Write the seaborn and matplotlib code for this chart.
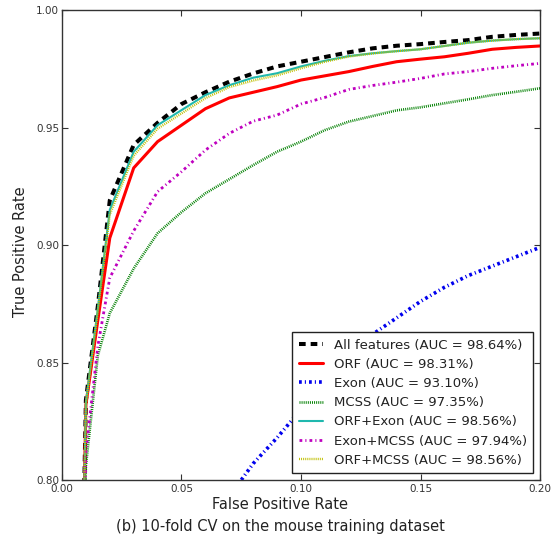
import matplotlib
matplotlib.use("Agg")
import matplotlib.pyplot as plt
import seaborn as sns
import pandas as pd

# ---- data ----
fpr = [0.0, 0.01, 0.015, 0.02, 0.03, 0.04, 0.05, 0.06, 0.07, 0.08, 0.09, 0.10,
       0.11, 0.12, 0.13, 0.14, 0.15, 0.16, 0.17, 0.18, 0.19, 0.20]

all_features = [0.30, 0.834, 0.874, 0.919, 0.9426, 0.952, 0.960, 0.965, 0.9695, 0.973, 0.976,
                0.978, 0.980, 0.982, 0.9837, 0.9848, 0.9855, 0.9864, 0.9872, 0.9886, 0.9894, 0.990]
orf = [0.30, 0.832, 0.868, 0.903, 0.9328, 0.944, 0.951, 0.958, 0.9626, 0.965, 0.9674,
       0.9702, 0.972, 0.9738, 0.976, 0.978, 0.9791, 0.9801, 0.9816, 0.9833, 0.9841, 0.9847]
exon = [0.0, 0.45, 0.52, 0.57, 0.64, 0.69, 0.73, 0.765, 0.793, 0.807, 0.818,
        0.830, 0.842, 0.853, 0.862, 0.869, 0.876, 0.882, 0.887, 0.891, 0.895, 0.899]
mcss = [0.30, 0.806, 0.853, 0.871, 0.890, 0.905, 0.914, 0.922, 0.928, 0.934, 0.9397,
        0.944, 0.9489, 0.9525, 0.9549, 0.9573, 0.9586, 0.9603, 0.962, 0.9638, 0.9652, 0.9667]
orf_exon = [0.30, 0.833, 0.873, 0.915, 0.9397, 0.951, 0.9574, 0.9638, 0.968, 0.9712, 0.9731,
            0.976, 0.9784, 0.9804, 0.9816, 0.9825, 0.9833, 0.9847, 0.9861, 0.987, 0.9876, 0.988]
exon_mcss = [0.30, 0.812, 0.857, 0.886, 0.906, 0.9227, 0.9312, 0.9404, 0.9475, 0.9527, 0.9553,
             0.960, 0.9628, 0.9662, 0.9679, 0.9693, 0.9709, 0.9728, 0.9738, 0.9752, 0.9763, 0.9773]
orf_mcss = [0.30, 0.832, 0.872, 0.913, 0.938, 0.9495, 0.956, 0.9625, 0.9672, 0.970, 0.9722,
            0.9752, 0.978, 0.9802, 0.9815, 0.9825, 0.9833, 0.9847, 0.9861, 0.987, 0.9876, 0.988]

series_names = ["All features (AUC = 98.64%)", "ORF (AUC = 98.31%)", "Exon (AUC = 93.10%)",
                "MCSS (AUC = 97.35%)", "ORF+Exon (AUC = 98.56%)", "Exon+MCSS (AUC = 97.94%)",
                "ORF+MCSS (AUC = 98.56%)"]
series_values = [all_features, orf, exon, mcss, orf_exon, exon_mcss, orf_mcss]

x_ticks = [0.00, 0.05, 0.10, 0.15, 0.20]
y_ticks = [0.80, 0.85, 0.90, 0.95, 1.00]
x_label = "False Positive Rate"
y_label = "True Positive Rate"
caption = "(b) 10-fold CV on the mouse training dataset"

# ---- styles ----
colors = ["#000000", "#ff0000", "#0000ee", "#008000", "#1fb8ae", "#bf00bf", "#bfbf00"]
widths = [2.9, 2.2, 2.6, 1.9, 1.5, 2.0, 1.7]
dashes = [(4.8, 3.6), None, (2.0, 2.2, 0.8, 2.2), (0.7, 0.8), None, (2.0, 2.2, 0.8, 2.2), (0.7, 0.8)]

sns.set_style("white")
plt.rcParams.update({
    "lines.scale_dashes": False,
    "xtick.direction": "in", "ytick.direction": "in",
    "xtick.top": True, "ytick.right": True,
    "xtick.major.size": 4, "ytick.major.size": 4,
    "xtick.bottom": True, "ytick.left": True,
    "axes.edgecolor": "#333333",
    "xtick.color": "#333333", "ytick.color": "#333333",
    "text.color": "#222222", "axes.labelcolor": "#222222",
})
plt.rcParams["font.family"] = ["DejaVu Sans"]

fig, ax = plt.subplots(figsize=(5.6, 5.42), dpi=100)
fig.subplots_adjust(left=0.1107, right=0.9643, bottom=0.1144, top=0.9815)

for name, vals, c, lw, d in zip(series_names, series_values, colors, widths, dashes):
    df = pd.DataFrame({"fpr": fpr, "tpr": vals})
    sns.lineplot(data=df, x="fpr", y="tpr", ax=ax, color=c, linewidth=lw, label=name,
                 estimator=None, sort=False)
    line = ax.lines[-1]
    if d is not None:
        line.set_dashes(d)
        line.set_dash_capstyle("butt")

ax.set_xlim(0.0, 0.2)
ax.set_ylim(0.8, 1.0)
ax.set_xticks(x_ticks)
ax.set_xticklabels([f"{t:.2f}" for t in x_ticks], fontsize=7.5)
ax.set_yticks(y_ticks)
ax.set_yticklabels([f"{t:.2f}" for t in y_ticks], fontsize=7.5)
ax.tick_params(axis="y", pad=2)
ax.tick_params(axis="x", pad=3)
for s in ax.spines.values():
    s.set_linewidth(1.0)
    s.set_color("#333333")

ax.set_xlabel(x_label, fontsize=10.5)
ax.set_ylabel(y_label, fontsize=10.5)
ax.xaxis.set_label_coords(0.456, -0.036)
ax.yaxis.set_label_coords(-0.072, 0.486)

leg = ax.legend(loc="lower right", fontsize=9.5, frameon=True, fancybox=False,
                edgecolor="#222222", framealpha=1.0, handlelength=1.85, handletextpad=0.8,
                labelspacing=0.47, borderpad=0.5, borderaxespad=0.5)
leg.get_frame().set_linewidth(1.0)

fig.text(0.5, 0.028, caption, ha="center", va="center", fontsize=10.5, color="#222222")

fig.savefig("out.png", dpi=100)
